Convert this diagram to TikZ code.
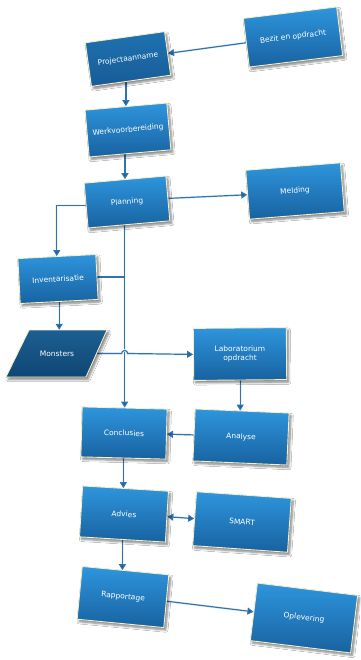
\documentclass[tikz,border=0pt]{standalone}
\usepackage{fontspec}
\setmainfont{DejaVu Sans}
\usetikzlibrary{arrows.meta,shapes.geometric,shadows.blur,backgrounds}
\definecolor{boxtop}{HTML}{2E95DC}
\definecolor{boxbot}{HTML}{1862A0}
\definecolor{darktop}{HTML}{1F72B2}
\definecolor{darkbot}{HTML}{175C96}
\definecolor{montop}{HTML}{1C5F92}
\definecolor{monbot}{HTML}{0F4673}
\definecolor{cream}{HTML}{F3EFC8}
\definecolor{linec}{HTML}{2F74B2}
\definecolor{tipc}{HTML}{1F5A92}
\definecolor{halo}{HTML}{F4F5F0}
\tikzset{
  boxfont/.style={text=white, font=\fontsize{7.5}{9}\selectfont, align=center, inner sep=0pt},
  procbox/.style={rectangle, draw=cream, line width=0.9pt, top color=boxtop, bottom color=boxbot,
    boxfont,
    blur shadow={shadow xshift=2pt, shadow yshift=-2.5pt, shadow blur steps=6, shadow opacity=50}},
  darkbox/.style={procbox, top color=darktop, bottom color=darkbot},
  monshape/.style={draw=cream, line width=0.9pt, top color=montop, bottom color=monbot,
    blur shadow={shadow xshift=2pt, shadow yshift=-2.5pt, shadow blur steps=6, shadow opacity=50}},
  montext/.style={boxfont, rectangle},
  conn/.style={draw=linec, line width=1.2pt, -{Triangle[length=6pt,width=7pt,fill=tipc]},
    preaction={draw=halo, line width=2.6pt, -}},
  connplain/.style={draw=linec, line width=1.2pt, preaction={draw=halo, line width=2.6pt}},
  connboth/.style={conn, {Triangle[length=6pt,width=7pt,fill=tipc]}-{Triangle[length=6pt,width=7pt,fill=tipc]}}
}
\begin{document}
\begin{tikzpicture}[x=1pt,y=-1pt]
\useasboundingbox (0,0) rectangle (360,660);

\node[darkbox, minimum width=80pt, minimum height=44pt, rotate=8] (proj) at (128,59) {Projectaanname};
\node[procbox, minimum width=94pt, minimum height=49pt, rotate=7] (bezit) at (293,37) {Bezit en opdracht};
\node[procbox, minimum width=82pt, minimum height=47pt, rotate=5] (werk) at (128,130) {Werkvoorbereiding};
\node[procbox, minimum width=82pt, minimum height=45pt, rotate=5] (plan) at (127,202) {Planning};
\node[procbox, minimum width=95pt, minimum height=49pt, rotate=4.5] (meld) at (295,191) {Melding};
\node[procbox, minimum width=78pt, minimum height=45pt, rotate=3] (inv) at (58,279) {Inventarisatie};
\path[monshape] (29,330) -- (107,330) -- (86,377) -- (6,377) -- cycle;
\node[montext, minimum width=80pt, minimum height=47pt] (mon) at (57,353.5) {Monsters};
\node[procbox, minimum width=93pt, minimum height=52pt, rotate=0.5] (lab) at (240,354) {Laboratorium\\opdracht};
\node[procbox, minimum width=85pt, minimum height=50pt, rotate=-1.5] (concl) at (124,433) {Conclusies};
\node[procbox, minimum width=94pt, minimum height=52pt, rotate=-2.5] (ana) at (241,437) {Analyse};
\node[procbox, minimum width=86pt, minimum height=51pt, rotate=-3.5] (adv) at (124,514) {Advies};
\node[procbox, minimum width=95pt, minimum height=54pt, rotate=-4] (smart) at (242,522) {SMART};
\node[procbox, minimum width=87pt, minimum height=53pt, rotate=-5.5] (rap) at (123,597) {Rapportage};
\node[procbox, minimum width=101pt, minimum height=58pt, rotate=-7] (opl) at (304,618) {Oplevering};

\begin{scope}[on background layer]
\fill[white] (0,0) rectangle (360,660);
\coordinate (hop) at (concl.north |- mon.east);
\draw[conn] (bezit.west) -- (proj.east);
\draw[conn] (werk.north |- proj.south) -- (werk.north);
\draw[conn] (plan.north |- werk.south) -- (plan.north);
\draw[conn] (plan.east) -- (meld.west);
\draw[conn] (plan.west) -| (inv.north);
\draw[conn] (concl.north |- plan.south) -- (concl.north);
\draw[connplain] (inv.east) -- (inv.east -| concl.north);
\draw[conn] (inv.south) -- (inv.south |- mon.north);
\draw[conn] (mon.east) -- ([xshift=-3pt]hop) arc[start angle=180, end angle=0, radius=3pt] -- (lab.west);
\draw[conn] (lab.south) -- (lab.south |- ana.north);
\draw[conn] (ana.west) -- (concl.east);
\draw[conn] (concl.south) -- (concl.south |- adv.north);
\draw[connboth] (adv.east) -- (smart.west);
\draw[conn] (adv.south) -- (adv.south |- rap.north);
\draw[conn] (rap.east) -- (opl.west);
\end{scope}
\end{tikzpicture}
\end{document}
